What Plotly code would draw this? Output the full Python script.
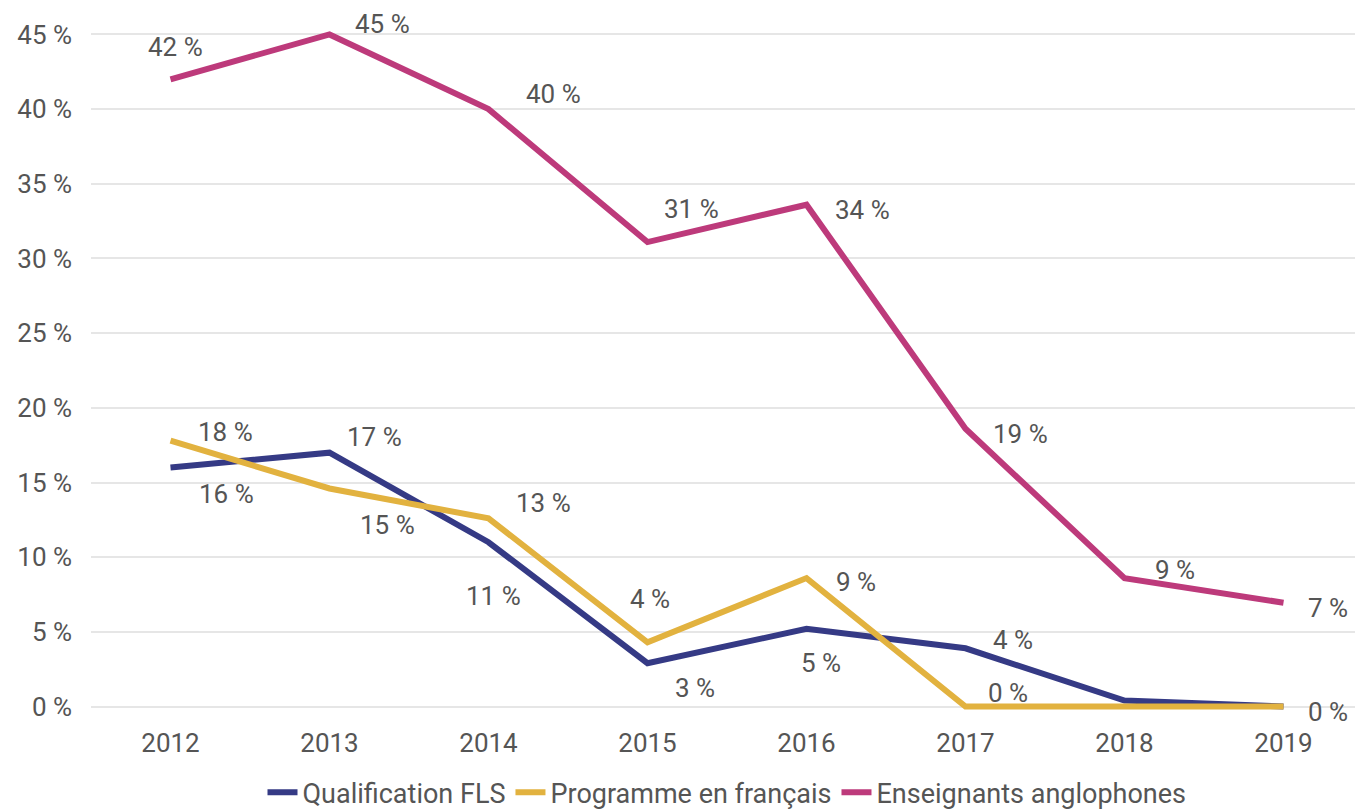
import plotly.graph_objects as go

years = ["2012", "2013", "2014", "2015", "2016", "2017", "2018", "2019"]
qualification_fls = [16.0, 17.0, 11.0, 2.9, 5.2, 3.9, 0.4, 0.0]
programme_fr = [17.8, 14.6, 12.6, 4.3, 8.6, 0.0, 0.0, 0.0]
enseignants_ang = [42.0, 45.0, 40.0, 31.1, 33.6, 18.6, 8.6, 6.95]
series_names = ["Qualification FLS", "Programme en français", "Enseignants anglophones"]
y_ticks = [0, 5, 10, 15, 20, 25, 30, 35, 40, 45]
y_tick_labels = ["0 %", "5 %", "10 %", "15 %", "20 %", "25 %", "30 %", "35 %", "40 %", "45 %"]

colors = ["#353a85", "#e2b23f", "#bd3a7b"]
text_color = "#555555"
FONT = "Roboto"
FS = 26

offsets = [
    [(56, -26), (45, 16), (5, -54), (47, -25), (14, -34), (47, 8), None, (44, -5)],
    [(55, 9), (58, -37), (55, 15), (2, 43), (49, -4), (42, 14), None, None],
    [(5, 32), (53, 10), (65, 15), (44, 33), (56, -5), (55, -5), (50, 8), (44, -5)],
]

fig = go.Figure()
all_series = [qualification_fls, programme_fr, enseignants_ang]
for name, vals, col in zip(series_names, all_series, colors):
    fig.add_trace(go.Scatter(
        x=years, y=vals, name=name, mode="lines",
        line=dict(color=col, width=6),
    ))

for vals, offs in zip(all_series, offsets):
    for i, (v, o) in enumerate(zip(vals, offs)):
        if o is None:
            continue
        fig.add_annotation(
            x=i, y=v, xref="x", yref="y", text=f"{round(v)} %",
            showarrow=False, xshift=o[0], yshift=o[1],
            font=dict(family=FONT, size=FS, color=text_color),
        )

# page body has an 8px margin: figure is shifted by 8px
fig.update_layout(
    width=1355, height=804,
    margin=dict(l=83, r=0, t=18.5, b=97.5),
    paper_bgcolor="white", plot_bgcolor="white",
    font=dict(family=FONT, size=FS, color=text_color),
    showlegend=True,
    legend=dict(orientation="h", x=0.5, xanchor="center", yref="container",
                y=0.024, yanchor="middle",
                font=dict(family=FONT, size=27, color=text_color),
                traceorder="normal"),
)
fig.update_xaxes(type="category", range=[-0.5, 7.5], showgrid=False, zeroline=False,
                 showline=False, ticks="", tickfont=dict(size=FS), automargin=False,
                 ticklabelstandoff=11)
fig.update_yaxes(range=[-0.5, 45.5], tickmode="array", tickvals=y_ticks, ticktext=y_tick_labels,
                 showgrid=True, gridcolor="#e6e6e6", gridwidth=1.5, zeroline=False,
                 showline=False, ticks="", tickfont=dict(size=FS), automargin=False,
                 ticklabelstandoff=18)

fig.write_html("out.html")
